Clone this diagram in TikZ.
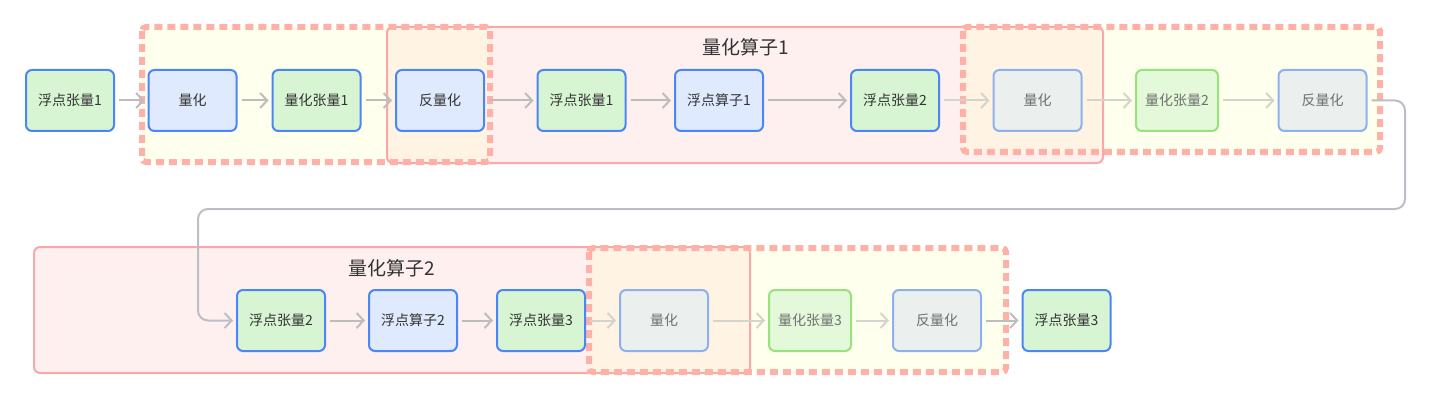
\documentclass[tikz,border=0pt]{standalone}
\usepackage{fontspec}
\setmainfont{Noto Sans CJK SC}
\usetikzlibrary{arrows.meta}
\definecolor{nodeblue}{HTML}{4A86F7}
\definecolor{gfill}{HTML}{D8F5D3}
\definecolor{bfill}{HTML}{E0EAFE}
\definecolor{ffill}{HTML}{EBF0EE}
\definecolor{fborder}{HTML}{8FB0EE}
\definecolor{fgfill}{HTML}{E4F9D9}
\definecolor{fgborder}{HTML}{98E27D}
\definecolor{ftext}{HTML}{707070}
\definecolor{txt}{HTML}{333333}
\definecolor{arrgray}{HTML}{BDBDBD}
\definecolor{arrfade}{HTML}{D4D4CC}
\definecolor{yfill}{HTML}{FFFFEE}
\definecolor{pfill}{HTML}{FFF0F0}
\definecolor{ofill}{HTML}{FFF4E4}
\definecolor{pborder}{HTML}{F8A8A8}
\definecolor{dborder}{HTML}{FFB1A8}
\definecolor{loopgray}{HTML}{BBBFC5}
\begin{document}
\begin{tikzpicture}[x=1pt,y=-1pt,
  box/.style={rounded corners=6pt, line width=2pt, minimum width=88pt, minimum height=61pt, inner sep=0pt, font=\fontsize{14pt}{16pt}\selectfont, text=txt},
  gbox/.style={box, draw=nodeblue, fill=gfill},
  bbox/.style={box, draw=nodeblue, fill=bfill},
  fbox/.style={box, draw=fborder, fill=ffill, text=ftext},
  fgbox/.style={box, draw=fgborder, fill=fgfill, text=ftext, minimum width=82pt},
  arr/.style={draw=arrgray, line width=2pt, -{Straight Barb[length=7pt,width=15pt,line width=2pt]}, shorten <=4pt, shorten >=3pt},
  farr/.style={arr, draw=arrfade},
  pinkgrp/.style={draw=pborder, line width=2pt, rounded corners=6pt},
  dashgrp/.style={draw=dborder, line width=6pt, dash pattern=on 8pt off 5pt, rounded corners=4pt},
  title/.style={font=\fontsize{19pt}{21pt}\selectfont, text=txt}
]
\useasboundingbox (0,0) rectangle (1440,401);
% group fills
\fill[yfill, rounded corners=4pt] (142,27) rectangle (490,162);
\fill[pfill, rounded corners=6pt] (387,27) rectangle (1103,163);
\fill[ofill] (387,27) rectangle (490,162);
\fill[yfill, rounded corners=4pt] (1103,27) rectangle (1380,152);
\fill[ofill] (963,27) rectangle (1103,152);
\fill[pfill, rounded corners=6pt] (34,247) rectangle (750,373);
\fill[yfill, rounded corners=4pt] (750,248) rectangle (1006,372);
\fill[ofill] (589,248) rectangle (750,372);
% group borders
\draw[pinkgrp] (387,27) rectangle (1103,163);
\draw[dashgrp] (142,27) rectangle (490,162);
\draw[dashgrp] (963,27) rectangle (1380,152);
\draw[pinkgrp] (34,247) rectangle (750,373);
\draw[dashgrp] (589,248) rectangle (1006,372);
% titles
\node[title] (t1) at (746,47) {量化算子1};
\node[title] (t2) at (392,268) {量化算子2};
% row 1
\node[gbox] (a1) at (70,100.5) {浮点张量1};
\node[bbox] (a2) at (192.5,100.5) {量化};
\node[gbox] (a3) at (316.5,100.5) {量化张量1};
\node[bbox] (a4) at (440,100.5) {反量化};
\node[gbox] (a5) at (581.5,100.5) {浮点张量1};
\node[bbox] (a6) at (719,100.5) {浮点算子1};
\node[gbox] (a7) at (895,100.5) {浮点张量2};
\node[fbox] (a8) at (1037.5,100.5) {量化};
\node[fgbox] (a9) at (1177,100.5) {量化张量2};
\node[fbox] (a10) at (1322.5,100.5) {反量化};
% row 2
\node[gbox] (b1) at (281,320.5) {浮点张量2};
\node[bbox] (b2) at (413,320.5) {浮点算子2};
\node[gbox] (b3) at (541,320.5) {浮点张量3};
\node[fbox] (b4) at (664,320.5) {量化};
\node[fgbox] (b5) at (810,320.5) {量化张量3};
\node[fbox] (b6) at (937,320.5) {反量化};
\node[gbox] (b7) at (1066.5,320.5) {浮点张量3};
% arrows
\draw[arr] (a1) -- (a2);
\draw[arr] (a2) -- (a3);
\draw[arr] (a3) -- (a4);
\draw[arr] (a4) -- (a5);
\draw[arr] (a5) -- (a6);
\draw[arr] (a6) -- (a7);
\draw[farr] (a7) -- (a8);
\draw[farr] (a8) -- (a9);
\draw[farr] (a9) -- (a10);
\coordinate (c1) at (1405,209);
\coordinate (c2) at (198,209);
\draw[arr, draw=loopgray, rounded corners=10pt] (a10.east) -| (c1) -- (c2) |- (b1.west);
\draw[arr] (b1) -- (b2);
\draw[arr] (b2) -- (b3);
\draw[farr] (b3) -- (b4);
\draw[farr] (b4) -- (b5);
\draw[farr] (b5) -- (b6);
\draw[arr] (b6) -- (b7);
\end{tikzpicture}
\end{document}
